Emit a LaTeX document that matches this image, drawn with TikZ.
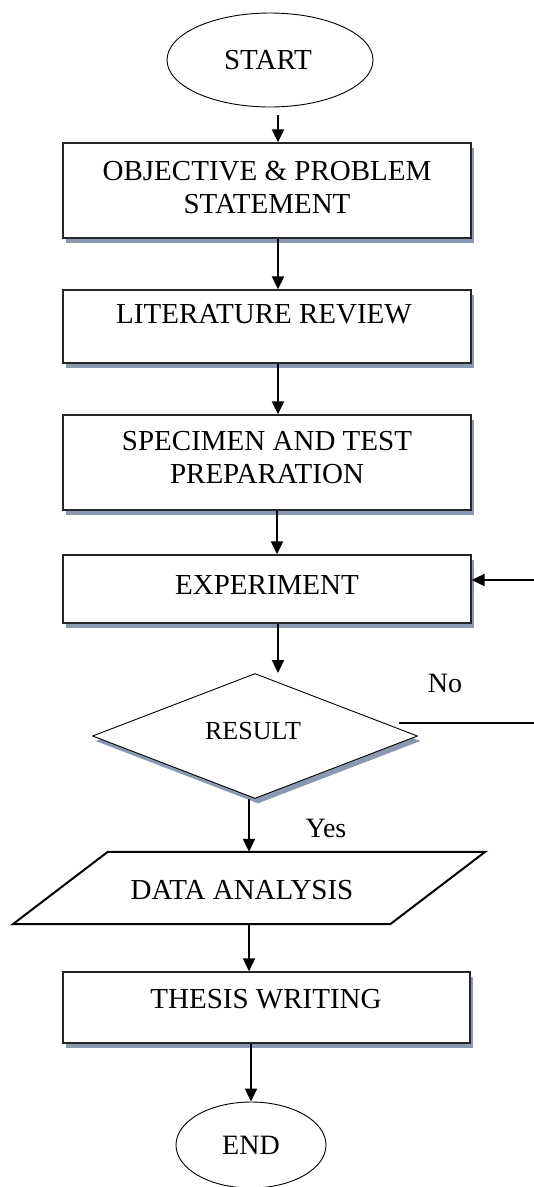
\documentclass[tikz,border=0pt]{standalone}
\usepackage{fontspec}
\setmainfont{Liberation Serif}
\usetikzlibrary{arrows.meta,shapes.geometric,shadows}
\definecolor{shadowc}{RGB}{138,152,178}
\tikzset{
  box/.style={draw=black!85, line width=1.3pt, fill=white, rectangle, inner sep=0pt,
    minimum width=408pt,
    drop shadow={shadow xshift=3pt, shadow yshift=-5pt, fill=shadowc, opacity=1}},
  txt/.style={font=\fontsize{29}{33}\selectfont, align=center, inner sep=0pt},
  oval/.style={draw=black, line width=0.9pt, ellipse, inner sep=0pt},
  decision/.style={draw=black, line width=0.9pt, fill=white, diamond, aspect=2.6, inner sep=0pt,
    minimum width=325pt, minimum height=125pt,
    drop shadow={shadow xshift=3pt, shadow yshift=-5pt, fill=shadowc, opacity=1}},
  arr/.style={line width=2pt, -{Triangle[width=12pt,length=13pt]}},
  plain/.style={line width=2pt},
  para/.style={draw=black, line width=2pt},
  lab/.style={font=\fontsize{28}{32}\selectfont, inner sep=0pt}
}
\begin{document}
\begin{tikzpicture}[x=1pt,y=-1pt]
\useasboundingbox (0,0) rectangle (534,1187);
% start
\node[oval, minimum width=206pt, minimum height=94pt] (st) at (270,60) {};
\node[txt] (tst) at (268,60) {START};
% boxes
\node[box, minimum height=95pt] (b1) at (267,190.5) {};
\node[txt] (t1) at (267,187) {OBJECTIVE \& PROBLEM\\STATEMENT};
\node[box, minimum height=73pt] (b2) at (267,326.5) {};
\node[txt] (t2) at (264,314) {LITERATURE REVIEW};
\node[box, minimum height=95pt] (b3) at (267,462.5) {};
\node[txt] (t3) at (267,458) {SPECIMEN AND TEST\\PREPARATION};
\node[box, minimum height=68pt] (b4) at (267,589) {};
\node[txt] (t4) at (267,585) {EXPERIMENT};
% decision
\node[decision] (rs) at (255,736) {};
\node[txt, font=\fontsize{26}{30}\selectfont] (trs) at (253,731) {RESULT};
% data analysis
\node[minimum width=472pt, minimum height=72pt, inner sep=0pt] (da) at (249,888) {};
\draw[para] ([xshift=95pt]da.north west) -- (da.north east) -- ([xshift=-95pt]da.south east) -- (da.south west) -- cycle;
\node[txt] (tda) at (242,890) {DATA ANALYSIS};
% thesis
\node[box, minimum width=407pt, minimum height=71pt] (th) at (266.5,1007.5) {};
\node[txt] (tth) at (266,999) {THESIS WRITING};
% end
\node[oval, minimum width=150pt, minimum height=86pt] (en) at (251,1145) {};
\node[txt, font=\fontsize{28}{32}\selectfont] (ten) at (251,1145) {END};
% labels
\node[lab] (no) at (445,683) {No};
\node[lab] (yes) at (326,828) {Yes};
% connectors
\coordinate (c0) at (278,115);
\draw[arr] (c0) -- (c0 |- b1.north);
\draw[arr] ([xshift=11pt]b1.south) -- ([xshift=11pt]b2.north);
\draw[arr] ([xshift=11pt]b2.south) -- ([xshift=11pt]b3.north);
\draw[arr] ([xshift=10pt]b3.south) -- ([xshift=10pt]b4.north);
\draw[arr] ([xshift=11pt]b4.south) -- ([xshift=11pt]b4.south |- rs.north);
\draw[arr] (rs.south -| da.north) -- (da.north);
\draw[arr] (da.south) -- (da.south |- th.north);
\draw[arr] (en.north |- th.south) -- (en.north);
% feedback
\coordinate (fa) at (534,723);
\coordinate (fb) at (534,580);
\draw[plain] ([shift={(-19,-13)}]rs.east) -- (fa);
\draw[arr] (fb) -- (fb -| b4.east);
\end{tikzpicture}
\end{document}
